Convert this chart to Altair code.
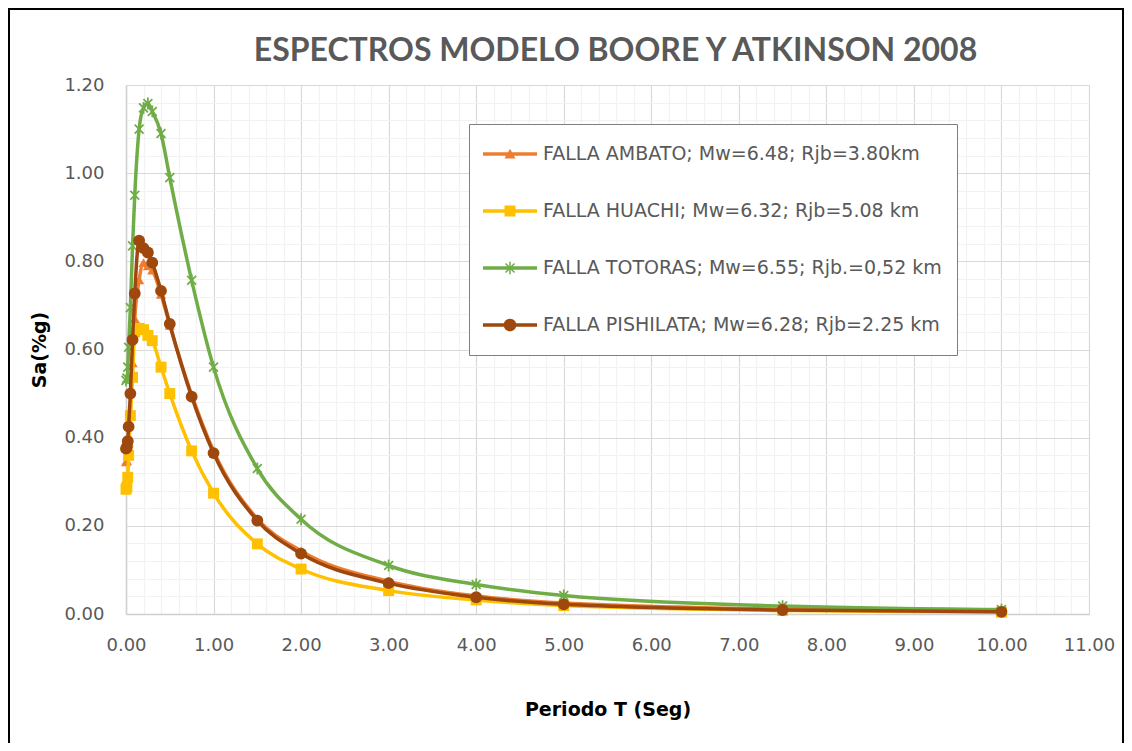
import altair as alt
import pandas as pd

# ---------------- data ----------------
periods = [0.0, 0.01, 0.02, 0.03, 0.05, 0.075, 0.1, 0.15, 0.2, 0.25, 0.3,
           0.4, 0.5, 0.75, 1.0, 1.5, 2.0, 3.0, 4.0, 5.0, 7.5, 10.0]

sa_ambato = [0.345, 0.348, 0.360, 0.390, 0.460, 0.570, 0.670, 0.758, 0.797, 0.790, 0.780,
             0.725, 0.655, 0.497, 0.370, 0.216, 0.143, 0.074, 0.041, 0.025, 0.011, 0.006]
sa_huachi = [0.283, 0.288, 0.310, 0.360, 0.450, 0.537, 0.640, 0.648, 0.645, 0.632, 0.620,
             0.560, 0.500, 0.370, 0.274, 0.159, 0.102, 0.053, 0.032, 0.019, 0.008, 0.004]
sa_totoras = [0.530, 0.535, 0.560, 0.605, 0.695, 0.835, 0.950, 1.100, 1.148, 1.158, 1.140,
              1.090, 0.990, 0.757, 0.560, 0.330, 0.215, 0.110, 0.067, 0.042, 0.018, 0.010]
sa_pishilata = [0.375, 0.378, 0.392, 0.425, 0.500, 0.622, 0.727, 0.847, 0.830, 0.820, 0.797,
                0.733, 0.658, 0.493, 0.365, 0.212, 0.137, 0.070, 0.038, 0.022, 0.009, 0.005]

series_names = [
    "FALLA AMBATO; Mw=6.48; Rjb=3.80km",
    "FALLA HUACHI; Mw=6.32; Rjb=5.08 km",
    "FALLA TOTORAS; Mw=6.55; Rjb.=0,52 km",
    "FALLA PISHILATA; Mw=6.28; Rjb=2.25 km",
]
series_values = [sa_ambato, sa_huachi, sa_totoras, sa_pishilata]
series_colors = ["#ED7D31", "#FFC000", "#70AD47", "#9E480E"]

title_text = "ESPECTROS MODELO BOORE Y ATKINSON 2008"
x_title = "Periodo T (Seg)"
y_title = "Sa(%g)"

x_grid_values = [round(i * 0.2, 2) for i in range(0, 56)]   # 0.00 .. 11.00, minor every 0.2
y_grid_values = [round(i * 0.04, 2) for i in range(0, 31)]  # 0.00 .. 1.20, minor every 0.04

# ---------------- marker styles ----------------
ASTER = "M0,-1L0,1M-0.75,-0.75L0.75,0.75M-0.75,0.75L0.75,-0.75"
marker_shapes = ["triangle-up", "square", ASTER, "circle"]
marker_sizes = [105, 120, 140, 140]
marker_filled = [True, True, False, True]

# legend symbols: line + marker, all filled, drawn at 15 px per unit
SPAN = "M0,-1L0,1"  # zero-area, invisible: only sets the entry height
LINE = "M-1.8,-0.11L1.8,-0.11L1.8,0.11L-1.8,0.11Z"
LEG_TRI = "M0,-0.347L0.367,0.3L-0.367,0.3Z"
LEG_SQ = "M-0.367,-0.367L0.367,-0.367L0.367,0.367L-0.367,0.367Z"
LEG_CIR = "M-0.42,0A0.42,0.42,0,1,1,0.42,0A0.42,0.42,0,1,1,-0.42,0Z"
LEG_AST = ("M-0.05,-0.42L0.05,-0.42L0.05,0.42L-0.05,0.42Z"
           "M-0.265,-0.335L0.335,0.265L0.265,0.335L-0.335,-0.265Z"
           "M-0.335,0.265L0.265,-0.335L0.335,-0.265L-0.265,0.335Z")
legend_paths = [SPAN + LINE + LEG_TRI, SPAN + LINE + LEG_SQ,
                SPAN + LINE + LEG_AST, SPAN + LINE + LEG_CIR]

# ---------------- table ----------------
rows = []
for name, vals in zip(series_names, series_values):
    for t, v in zip(periods, vals):
        rows.append({"serie": name, "T": t, "Sa": v})
df = pd.DataFrame(rows)

FONT = "DejaVu Sans"
GRAY = "#595959"

x_scale = alt.Scale(domain=[0, 11], nice=False, zero=False)
y_scale = alt.Scale(domain=[0, 1.2], nice=False)
color_scale = alt.Scale(domain=series_names, range=series_colors)

x_axis = alt.Axis(
    values=x_grid_values,
    labelExpr="abs(datum.value - round(datum.value)) < 0.001 ? format(datum.value, '.2f') : ''",
    grid=True,
    gridColor={"condition": {"test": "abs(datum.value - round(datum.value)) < 0.001", "value": "#D9D9D9"},
               "value": "#F2F2F2"},
    gridWidth=1.2,
    ticks=False, tickSize=0,
    domainColor="#D0D0D0", domainWidth=1.5,
    labelFont=FONT, labelFontSize=18, labelColor=GRAY, labelPadding=22,
    labelOverlap=False, labelFlush=False,
    title=x_title, titleFont=FONT, titleFontSize=19, titleFontWeight="bold",
    titleColor="#000000", titlePadding=46,
)
y_axis = alt.Axis(
    values=y_grid_values,
    labelExpr="abs(datum.value * 5 - round(datum.value * 5)) < 0.001 ? format(datum.value, '.2f') : ''",
    grid=True,
    gridColor={"condition": {"test": "abs(datum.value * 5 - round(datum.value * 5)) < 0.001", "value": "#D9D9D9"},
               "value": "#F2F2F2"},
    gridWidth=1.2,
    ticks=False, tickSize=0,
    domainColor="#D0D0D0", domainWidth=1.5,
    labelFont=FONT, labelFontSize=18, labelColor=GRAY, labelPadding=22,
    labelOverlap=False, labelFlush=False,
    title=y_title, titleFont=FONT, titleFontSize=19, titleFontWeight="bold",
    titleColor="#000000", titlePadding=14,
)

X = alt.X("T:Q", scale=x_scale, axis=x_axis)
Y = alt.Y("Sa:Q", scale=y_scale, axis=y_axis)

layers = []
for i, name in enumerate(series_names):
    sub = alt.Chart(df).transform_filter(alt.datum.serie == name)
    line = sub.mark_line(interpolate="monotone", strokeWidth=3.5, clip=True).encode(
        x=X, y=Y,
        color=alt.Color("serie:N", scale=color_scale, legend=None),
    )
    pts = sub.mark_point(
        shape=marker_shapes[i], size=marker_sizes[i], filled=marker_filled[i],
        opacity=1, strokeWidth=1.8,
    ).encode(
        x=X, y=Y,
        color=alt.Color("serie:N", scale=color_scale, legend=None),
    )
    layers += [line, pts]

leg = alt.Legend(
    title=None, orient="none", legendX=343, legendY=39,
    padding=15, rowPadding=27, symbolOffset=11, labelOffset=18,
    symbolSize=900, symbolOpacity=1, symbolStrokeWidth=0,
    labelFont=FONT, labelFontSize=19, labelColor=GRAY, labelLimit=600,
    fillColor="#FFFFFF", strokeColor="#7F7F7F",
)
legend_layer = alt.Chart(pd.DataFrame({"serie": series_names})).transform_filter("false").mark_point(
    filled=True, opacity=1
).encode(
    color=alt.Color("serie:N", scale=alt.Scale(domain=series_names, range=series_colors), legend=leg),
    shape=alt.Shape("serie:N", scale=alt.Scale(domain=series_names, range=legend_paths), legend=leg),
)
layers.append(legend_layer)

frame = alt.Chart(pd.DataFrame({"k": [0]})).mark_rect(
    filled=False, stroke="#000000", strokeWidth=2, clip=False
).encode(
    x=alt.value(-117), x2=alt.value(997), y=alt.value(-76), y2=alt.value(700)
)
layers.append(frame)

chart = alt.layer(*layers).resolve_scale(
    color="independent", shape="independent"
).properties(
    width=963, height=529,
    padding={"left": 118, "top": 77, "right": 35, "bottom": 129},
    autosize=alt.AutoSizeParams(type="none"),
    title=alt.Title(title_text, font="Lato", fontSize=32, fontWeight="bold",
                    color=GRAY, anchor="middle", offset=-60, dx=8),
).configure_view(stroke=None).configure(background="#FFFFFF")

chart.save("out.html", embed_options={"renderer": "svg", "actions": False})
